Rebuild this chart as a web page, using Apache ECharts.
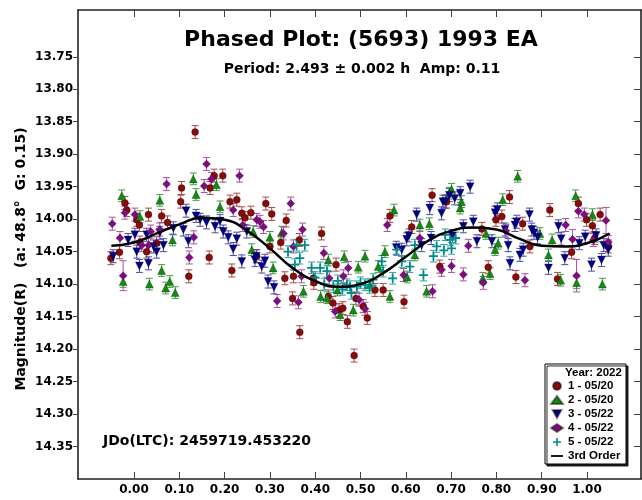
<!DOCTYPE html>
<html><head><meta charset="utf-8">
<script src="https://cdn.jsdelivr.net/npm/echarts@6/dist/echarts.min.js"></script>
<style>html,body{margin:0;padding:0;background:#fff}#c{width:642px;height:500px}</style>
</head><body><div id="c"></div>
<script>
// ---- tick labels ----
const xTicks = [0.00,0.10,0.20,0.30,0.40,0.50,0.60,0.70,0.80,0.90,1.00];
const yTicks = [13.75,13.80,13.85,13.90,13.95,14.00,14.05,14.10,14.15,14.20,14.25,14.30,14.35];
const seriesNames = ['1 - 05/20','2 - 05/20','3 - 05/22','4 - 05/22','5 - 05/22'];
const fitName = '3rd Order';
// default error (mag) per session; third element of a point overrides it
const defaultErr = [0.010, 0.009, 0.010, 0.010, 0.009];

// ---- session 1 (red circles): [phase, mag, (err)] ----
const s1 = [[-0.051,14.060],[-0.032,14.051],[-0.020,13.975],[-0.016,13.986],[0.006,14.001],[0.012,14.009],[0.013,14.036],
[0.028,14.050],[0.032,13.993],[0.050,14.037],[0.061,13.995],[0.074,14.005],[0.103,13.973],[0.105,13.952],[0.121,14.088],
[0.135,13.866],[0.166,14.059],[0.168,13.952],[0.177,13.933],[0.196,13.933],[0.212,13.973],[0.216,14.079],[0.227,13.970],
[0.238,13.991],[0.245,13.998],[0.258,13.990],[0.271,14.057],[0.291,13.976],[0.300,14.042],[0.304,13.992],[0.324,14.036],
[0.333,14.091],[0.336,14.002],[0.350,14.122],[0.352,14.088],[0.365,14.032],[0.366,14.174],[0.396,14.091],[0.397,14.098],
[0.414,14.022],[0.429,14.119],[0.439,14.129],[0.446,14.070],[0.453,14.140],[0.461,14.137],[0.471,14.158],[0.486,14.210],
[0.490,14.122],[0.506,14.134],[0.515,14.152],[0.532,14.109],[0.550,14.109],[0.565,13.995],[0.596,14.127],[0.613,14.012],
[0.658,13.963],[0.675,14.073],[0.690,13.973],[0.768,14.015],[0.782,14.074],[0.799,14.001],[0.812,13.996],[0.829,13.966],
[0.843,14.089],[0.858,14.007],[0.874,14.042],[0.918,13.986],[0.935,14.092],[0.966,14.051],[0.981,13.976],[0.999,14.001],
[1.012,14.010],[1.017,14.029],[1.029,13.993],[1.047,14.042]];

// ---- session 2 (green triangles) ----
const s2 = [[-0.027,13.964],[-0.024,14.096],[0.013,13.996],[0.034,14.100],[0.057,13.971],[0.061,14.079],[0.070,14.106],
[0.079,14.096],[0.085,14.032],[0.091,14.113],[0.131,13.938],[0.137,13.962],[0.182,13.947],[0.190,13.981],[0.260,14.047],
[0.263,14.019],[0.300,14.028],[0.307,14.075],[0.326,14.020],[0.374,14.111],[0.412,14.119],[0.426,14.121],[0.429,14.063],
[0.449,14.109],[0.455,14.147],[0.464,14.058],[0.484,14.140],[0.495,14.074],[0.510,14.057],[0.521,14.101],[0.539,14.073],
[0.554,14.050],[0.565,14.119],[0.574,13.986],[0.603,14.089],[0.620,14.055],[0.631,14.009],[0.646,14.111],[0.652,14.007],
[0.696,13.960],[0.701,13.954],[0.720,13.983],[0.723,13.973],[0.770,14.091],[0.777,14.022],[0.786,14.084],[0.797,14.047],
[0.804,14.037],[0.814,13.970],[0.847,13.934],[0.896,14.022],[0.915,14.055],[0.923,14.032],[0.942,14.094],[0.975,13.964],
[0.977,14.098],[1.012,13.993],[1.034,14.100]];

// ---- session 3 (navy inverted triangles) ----
const s3 = [[-0.046,14.057],[-0.013,14.032],[0.002,14.024],[0.006,14.050],[0.012,14.072],[0.028,14.024],[0.032,14.068],
[0.043,14.042],[0.050,14.050],[0.057,14.021],[0.065,14.040],[0.087,14.014],[0.109,14.016],[0.115,13.987],[0.120,14.034],
[0.137,13.995],[0.146,14.001],[0.160,14.005],[0.179,14.011],[0.190,14.003],[0.197,14.019],[0.208,14.028],[0.219,14.046],
[0.227,14.030],[0.238,14.065],[0.249,14.019],[0.267,14.063],[0.270,14.057],[0.282,14.073],[0.289,14.064],[0.296,14.096],
[0.309,14.105],[0.579,14.044],[0.591,14.047],[0.602,14.031],[0.607,14.025],[0.624,13.993],[0.635,14.040],[0.653,13.983],
[0.656,14.029],[0.679,13.991],[0.682,13.973],[0.687,13.973],[0.696,13.963],[0.703,14.026],[0.708,13.968],[0.720,13.960],
[0.727,14.011],[0.742,13.950],[0.749,14.004],[0.757,14.034],[0.790,14.034],[0.797,13.990],[0.802,13.985],[0.819,14.016],
[0.826,14.040],[0.830,14.068],[0.841,14.009],[0.845,14.004],[0.852,14.055],[0.859,14.047],[0.873,13.993],[0.878,14.016],
[0.883,14.021],[0.891,14.028],[0.915,14.075],[0.937,14.011],[0.943,14.030],[0.951,14.060],[0.983,14.037],[0.996,14.027],
[1.010,14.070],[1.020,14.025],[1.032,14.063],[1.037,14.040],[1.047,14.047]];

// ---- session 4 (purple diamonds) ----
const s4 = [[-0.048,14.007],[-0.031,14.029],[-0.020,13.990],[-0.024,14.087,0.023],[0.002,13.993],[0.017,14.040],[0.032,14.040],
[0.037,14.019],[0.057,14.016],[0.072,13.946],[0.122,14.059],[0.132,14.028],[0.155,13.949],[0.160,13.915],[0.171,13.938],
[0.219,13.986],[0.233,13.933],[0.240,14.009],[0.271,14.001],[0.278,14.004],[0.286,14.012],[0.316,14.126],[0.330,14.022],
[0.346,13.976],[0.352,14.042],[0.363,14.128],[0.370,14.088],[0.372,14.016],[0.419,14.052],[0.431,14.091],[0.444,14.142],
[0.462,14.088],[0.473,14.075],[0.497,14.124],[0.510,14.138],[0.559,14.009],[0.595,14.086],[0.631,14.029],[0.659,14.111],
[0.679,14.078],[0.701,14.072],[0.727,14.085],[0.738,14.041],[0.771,14.098],[0.821,14.018],[0.863,14.094],[0.953,14.009],
[0.968,14.031,0.015],[0.977,14.087,0.025],[0.981,13.988],[0.994,13.993],[1.014,14.032],[1.042,14.002,0.020],[1.047,14.035]];

// ---- session 5 (teal crosses) ----
const s5 = [[0.340,14.050],[0.355,14.070],[0.359,14.040],[0.366,14.060],[0.377,14.040],[0.392,14.075],[0.400,14.090],
[0.411,14.075],[0.420,14.100],[0.426,14.080],[0.440,14.104],[0.450,14.095],[0.460,14.108],[0.470,14.101],[0.477,14.104],
[0.480,14.114],[0.492,14.104],[0.500,14.098],[0.510,14.101],[0.520,14.105],[0.528,14.093],[0.547,14.065],[0.550,14.080],
[0.571,14.091],[0.580,14.047],[0.591,14.065],[0.609,14.073],[0.620,14.040],[0.639,14.086],[0.661,14.057],[0.668,14.042],
[0.684,14.048],[0.687,14.024],[0.698,14.032],[0.701,14.045],[0.710,14.029]];

// ---- 3rd order Fourier fit ----
const fitPhase = [-0.05,0.00,0.05,0.10,0.15,0.20,0.25,0.30,0.35,0.40,0.45,0.50,0.55,0.60,0.65,0.70,0.75,0.80,0.85,0.90,0.95,1.00,1.05];
const fitMag   = [14.041,14.036,14.022,14.008,13.998,14.001,14.018,14.045,14.075,14.095,14.104,14.100,14.083,14.058,14.033,14.018,14.013,14.016,14.030,14.041,14.042,14.037,14.022];

// ---- styling ----
const XMIN = -0.1236, XMAX = 1.1192, YMIN = 13.678, YMAX = 14.40;
const colors = ['#8b0a0a','#138a13','#00008b','#820a82','#008b8b'];
const barColors = ['#b04848','#3fa03f','#4a4aaa','#aa50aa','#30a0a0'];
const symbols = ['circle','triangle','path://M0,0 L10,0 L5,9 Z','diamond','path://M4,0 L6,0 L6,4 L10,4 L10,6 L6,6 L6,10 L4,10 L4,6 L0,6 L0,4 L4,4 Z'];
const sizes = [7,8,8,8,9];
const sessions = [s1,s2,s3,s4,s5];
const AX = '"DejaVu Sans", sans-serif';
const LG = '"Liberation Sans", Arial, sans-serif';

function errRender(color) {
  return function (params, api) {
    const x = api.value(0), y = api.value(1), e = api.value(2);
    const a = api.coord([x, y - e]), b = api.coord([x, y + e]);
    const w = 3.5, st = {stroke: color, lineWidth: 1};
    return {type: 'group', children: [
      {type: 'line', shape: {x1: a[0], y1: a[1], x2: b[0], y2: b[1]}, style: st},
      {type: 'line', shape: {x1: a[0] - w, y1: a[1], x2: a[0] + w, y2: a[1]}, style: st},
      {type: 'line', shape: {x1: b[0] - w, y1: b[1], x2: b[0] + w, y2: b[1]}, style: st}
    ]};
  };
}

const series = [];
sessions.forEach(function (pts, i) {
  const withErr = pts.map(function (p) { return [p[0], p[1], p.length > 2 ? p[2] : defaultErr[i]]; });
  series.push({name: 'err' + i, type: 'custom', renderItem: errRender(barColors[i]), data: withErr,
    encode: {x: 0, y: 1}, silent: true, z: 2});
  series.push({name: seriesNames[i], type: 'scatter', data: pts.map(function (p) { return [p[0], p[1]]; }),
    symbol: symbols[i], symbolSize: sizes[i],
    itemStyle: {color: colors[i], opacity: 1, borderColor: i === 4 ? colors[i] : 'rgba(0,0,0,0.45)', borderWidth: i === 4 ? 0 : 0.6}, z: 3});
});
series.push({name: fitName, type: 'line', data: fitPhase.map(function (p, k) { return [p, fitMag[k]]; }),
  smooth: 0.5, symbol: 'none', lineStyle: {color: '#000', width: 2.5}, itemStyle: {color: '#000'}, z: 10});

const axLine = {show: true, onZero: false, lineStyle: {color: '#222', width: 1.6}};
const tickStyle = {color: '#444', width: 1};
const labelStyle = {color: '#000', fontFamily: AX, fontWeight: 'bold', fontSize: 12};

const legendData = seriesNames.map(function (n) { return {name: n}; });
legendData.push({name: fitName, icon: 'path://M0,0 L16,0 L16,2.4 L0,2.4 Z', itemStyle: {color: '#000'}});

const option = {
  animation: false,
  grid: {left: 78, right: 1, top: 10, bottom: 21, containLabel: false},
  xAxis: [
    {type: 'value', position: 'bottom', min: XMIN, max: XMAX, axisLine: axLine,
     axisTick: {show: true, inside: true, length: 7, customValues: xTicks, lineStyle: tickStyle},
     axisLabel: Object.assign({customValues: xTicks, margin: 5, formatter: function (v) { return v.toFixed(2); }}, labelStyle),
     splitLine: {show: false}},
    {type: 'value', position: 'top', min: XMIN, max: XMAX, axisLine: axLine,
     axisTick: {show: true, inside: true, length: 7, customValues: xTicks, lineStyle: tickStyle},
     axisLabel: {show: false}, splitLine: {show: false}}
  ],
  yAxis: [
    {type: 'value', position: 'left', inverse: true, min: YMIN, max: YMAX, axisLine: axLine,
     axisTick: {show: true, inside: false, length: 5, customValues: yTicks, lineStyle: tickStyle},
     axisLabel: Object.assign({customValues: yTicks, margin: 5, formatter: function (v) { return v.toFixed(2); }}, labelStyle),
     splitLine: {show: false}},
    {type: 'value', position: 'right', inverse: true, min: YMIN, max: YMAX, axisLine: axLine,
     axisTick: {show: true, inside: true, length: 7, customValues: yTicks, lineStyle: tickStyle},
     axisLabel: {show: false}, splitLine: {show: false}}
  ],
  legend: {orient: 'vertical', left: 550, top: 380, padding: 0, itemGap: 2, itemWidth: 12, itemHeight: 8,
    textStyle: {fontFamily: LG, fontWeight: 'bold', fontSize: 11.5, color: '#000', lineHeight: 12},
    data: legendData, selectedMode: false, z: 60},
  graphic: [
    {type: 'text', x: 361, y: 40, z: 20, style: {text: 'Phased Plot: (5693) 1993 EA', font: 'bold 22px ' + AX, fill: '#000', textAlign: 'center', textVerticalAlign: 'middle'}},
    {type: 'text', x: 362, y: 69, z: 20, style: {text: 'Period: 2.493 \u00b1 0.002 h  Amp: 0.11', font: 'bold 14px ' + AX, fill: '#000', textAlign: 'center', textVerticalAlign: 'middle'}},
    {type: 'text', x: 103, y: 441, z: 20, style: {text: 'JDo(LTC): 2459719.453220', font: 'bold 14px ' + AX, fill: '#000', textAlign: 'left', textVerticalAlign: 'middle'}},
    {type: 'text', x: 21, y: 259, rotation: Math.PI / 2, z: 20, style: {text: 'Magnitude(R)   (a: 48.8\u00b0  G: 0.15)', font: 'bold 14px ' + AX, fill: '#000', textAlign: 'center', textVerticalAlign: 'middle'}},
    {type: 'rect', z: 50, shape: {x: 545, y: 364, width: 81, height: 100}, style: {fill: '#fff', stroke: '#000', lineWidth: 1, shadowColor: 'rgba(0,0,0,0.85)', shadowOffsetX: 2, shadowOffsetY: 2, shadowBlur: 0}},
    {type: 'text', x: 565, y: 373, z: 61, style: {text: 'Year: 2022', font: 'bold 11.5px ' + LG, fill: '#000', textAlign: 'left', textVerticalAlign: 'middle'}}
  ],
  series: series
};
const chart = echarts.init(document.getElementById('c'), null, {renderer: 'canvas'});
chart.setOption(option);
</script>
</body></html>
